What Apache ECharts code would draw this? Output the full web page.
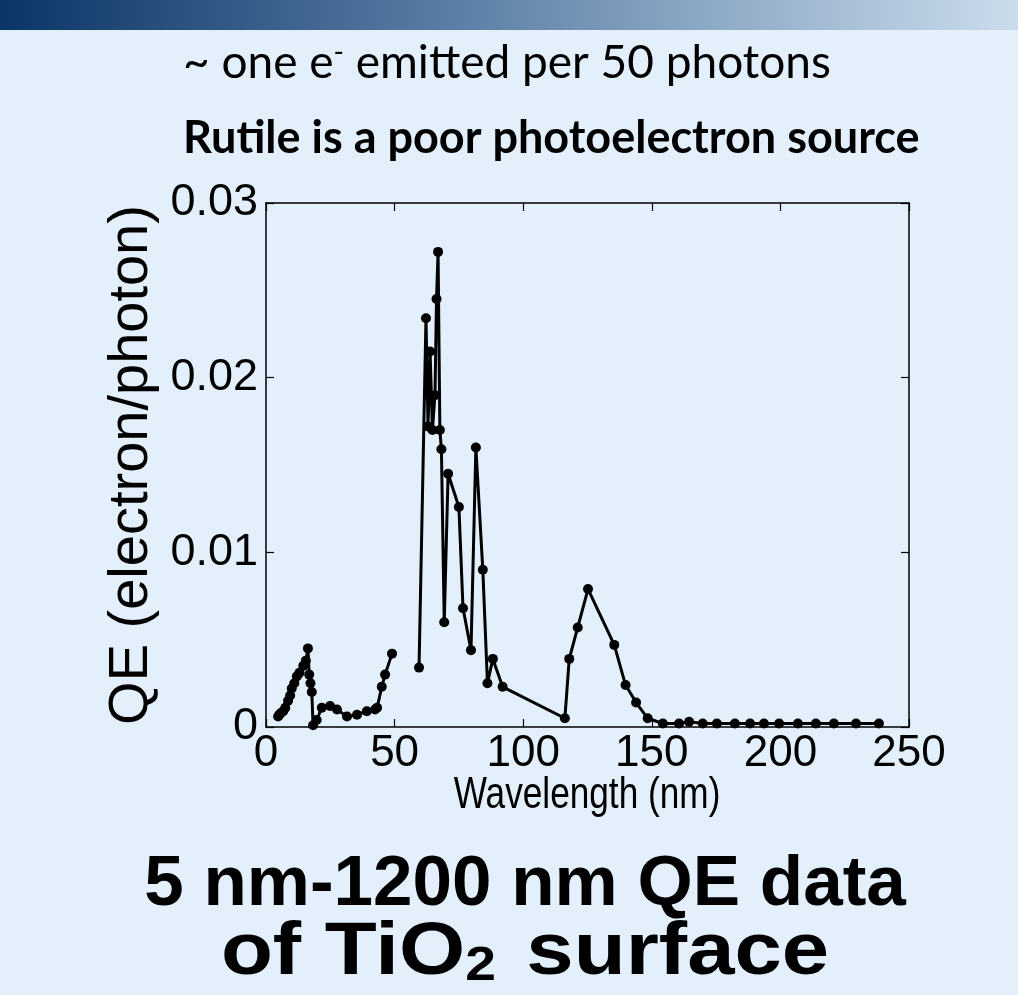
<!DOCTYPE html>
<html>
<head>
<meta charset="utf-8">
<script src="https://cdn.jsdelivr.net/npm/echarts@6/dist/echarts.min.js"></script>
<style>
  html, body { margin: 0; padding: 0; background: #e3f0fb; }
  #chart { width: 1018px; height: 995px; }
</style>
</head>
<body>
<div id="chart"></div>
<script>
// Wavelength (nm) and quantum efficiency (electron/photon); null = gap in the measured curve
const wavelength = [4.7, 5.2, 5.8, 6.7, 7.5, 8.6, 9.4, 10, 11, 12, 13, 14.5, 15.5, 16.3, 16.8, 17.3, 17.8, 18.3, 19.7, 21.7, 24.9, 27.6, 31.5, 35.4, 39.2, 42.4, 43.2, 45, 46.3, 49,
  54,
  59.5, 62.2, 63.0, 63.8, 64.7, 65.7, 66.3, 66.9, 67.6, 68.2, 69.3, 70.8, 75, 76.6, 79.7, 81.6, 84.3, 86.1, 88.2, 92,
  116.2, 117.9, 121.2, 125.2, 135.4, 139.8, 143.9, 148.4, 154.3, 160.6, 164.5, 169.8, 175.3, 182.3, 188.2, 193.6, 199.5, 206.8, 213.8, 220.8, 229.4, 238.3];
const qe = [0.0006, 0.0007, 0.0008, 0.0009, 0.0011, 0.0015, 0.0018, 0.0022, 0.0025, 0.0029, 0.0031, 0.0035, 0.0038, 0.0045, 0.0030, 0.0025, 0.0020, 0.0001, 0.0004, 0.0011, 0.0012, 0.0010, 0.0006, 0.0007, 0.0009, 0.0010, 0.0011, 0.0023, 0.0030, 0.0042,
  null,
  0.0034, 0.0234, 0.0172, 0.0215, 0.0170, 0.0190, 0.0245, 0.0272, 0.0170, 0.0159, 0.0060, 0.0145, 0.0126, 0.0068, 0.0044, 0.0160, 0.0090, 0.0025, 0.0039, 0.0023,
  0.0005, 0.0039, 0.0057, 0.0079, 0.0047, 0.0024, 0.0014, 0.0005, 0.0002, 0.0002, 0.0003, 0.0002, 0.0002, 0.0002, 0.0002, 0.0002, 0.0002, 0.0002, 0.0002, 0.0002, 0.0002, 0.0002];
const xTicks = [0, 50, 100, 150, 200, 250];
const yTicks = [0, 0.01, 0.02, 0.03];

const seriesData = wavelength.map((w, i) => [w, qe[i] === null ? '-' : qe[i]]);

const chart = echarts.init(document.getElementById('chart'));
const axisFont = 'Liberation Sans, Arial, sans-serif';
const boxAxis = {
  axisLine: { show: true, onZero: false, lineStyle: { color: '#000', width: 1.5 } },
  axisTick: { show: true, inside: true, length: 8, lineStyle: { color: '#000', width: 1.2 } },
  splitLine: { show: false }
};
chart.setOption({
  backgroundColor: '#e3f0fb',
  animation: false,
  grid: { left: 266, top: 203, right: 109, bottom: 268, containLabel: false },
  xAxis: [
    Object.assign({
      type: 'value', min: 0, max: 250, interval: 50, position: 'bottom',
      axisLabel: { show: true, margin: 5, fontFamily: axisFont, fontSize: 44, color: '#000', hideOverlap: false,
        formatter: v => xTicks.includes(v) ? String(v) : '' }
    }, boxAxis),
    Object.assign({ type: 'value', min: 0, max: 250, interval: 50, position: 'top', axisLabel: { show: false } }, boxAxis)
  ],
  yAxis: [
    Object.assign({
      type: 'value', min: 0, max: 0.03, interval: 0.01, position: 'left',
      name: 'QE (electron/photon)', nameLocation: 'middle', nameGap: 102, nameRotate: 90,
      nameTextStyle: { fontFamily: axisFont, fontSize: 56, color: '#000' },
      axisLabel: { show: true, margin: 8, fontFamily: axisFont, fontSize: 45, color: '#000', hideOverlap: false,
        formatter: v => { const t = yTicks.find(k => Math.abs(k - v) < 1e-9); return t === undefined ? '' : String(+t.toFixed(2)); } }
    }, boxAxis),
    Object.assign({ type: 'value', min: 0, max: 0.03, interval: 0.01, position: 'right', axisLabel: { show: false } }, boxAxis)
  ],
  series: [{
    type: 'line',
    data: seriesData,
    connectNulls: false,
    symbol: 'circle',
    symbolSize: 10,
    showSymbol: true,
    clip: false,
    lineStyle: { color: '#000', width: 3 },
    itemStyle: { color: '#000' }
  }],
  graphic: [
    { type: 'rect', left: 0, top: 0, shape: { width: 1018, height: 30 }, z: 10,
      style: { fill: new echarts.graphic.LinearGradient(0, 0, 1, 0, [
        { offset: 0, color: '#0a3566' }, { offset: 0.45, color: '#5b7fa6' }, { offset: 1, color: '#cbdcec' }]) } },
    { type: 'text', x: 183, y: 63, z: 10,
      style: { text: '~ one e{sup|-} emitted per 50 photons', fill: '#000', font: '46px Lato, sans-serif', verticalAlign: 'middle',
        rich: { sup: { fontSize: 28, fontFamily: 'Lato', verticalAlign: 'top', padding: [0, 0, 20, 0] } } } },
    { type: 'text', x: 183, y: 138, z: 10,
      style: { text: 'Rutile is a poor photoelectron source', fill: '#000', font: 'bold 45px Lato, sans-serif', verticalAlign: 'middle' } },
    { type: 'text', x: 587, y: 796, z: 10, scaleX: 0.8,
      style: { text: 'Wavelength (nm)', fill: '#000', font: '44px Liberation Sans, Arial, sans-serif', align: 'center', verticalAlign: 'middle' } },
    { type: 'text', x: 525, y: 885, z: 10,
      style: { text: '5 nm-1200 nm QE data', fill: '#000', font: 'bold 71px Liberation Sans, Arial, sans-serif', align: 'center', verticalAlign: 'middle' } },
    { type: 'text', x: 525, y: 954, z: 10, scaleX: 1.15,
      style: { text: 'of TiO{sub|2} surface', fill: '#000', font: 'bold 74px Liberation Sans, Arial, sans-serif', align: 'center', verticalAlign: 'middle',
        rich: { sub: { fontSize: 48, fontWeight: 'bold', fontFamily: 'Liberation Sans', padding: [26, 6, 0, 0] } } } }
  ]
});
</script>
</body>
</html>
